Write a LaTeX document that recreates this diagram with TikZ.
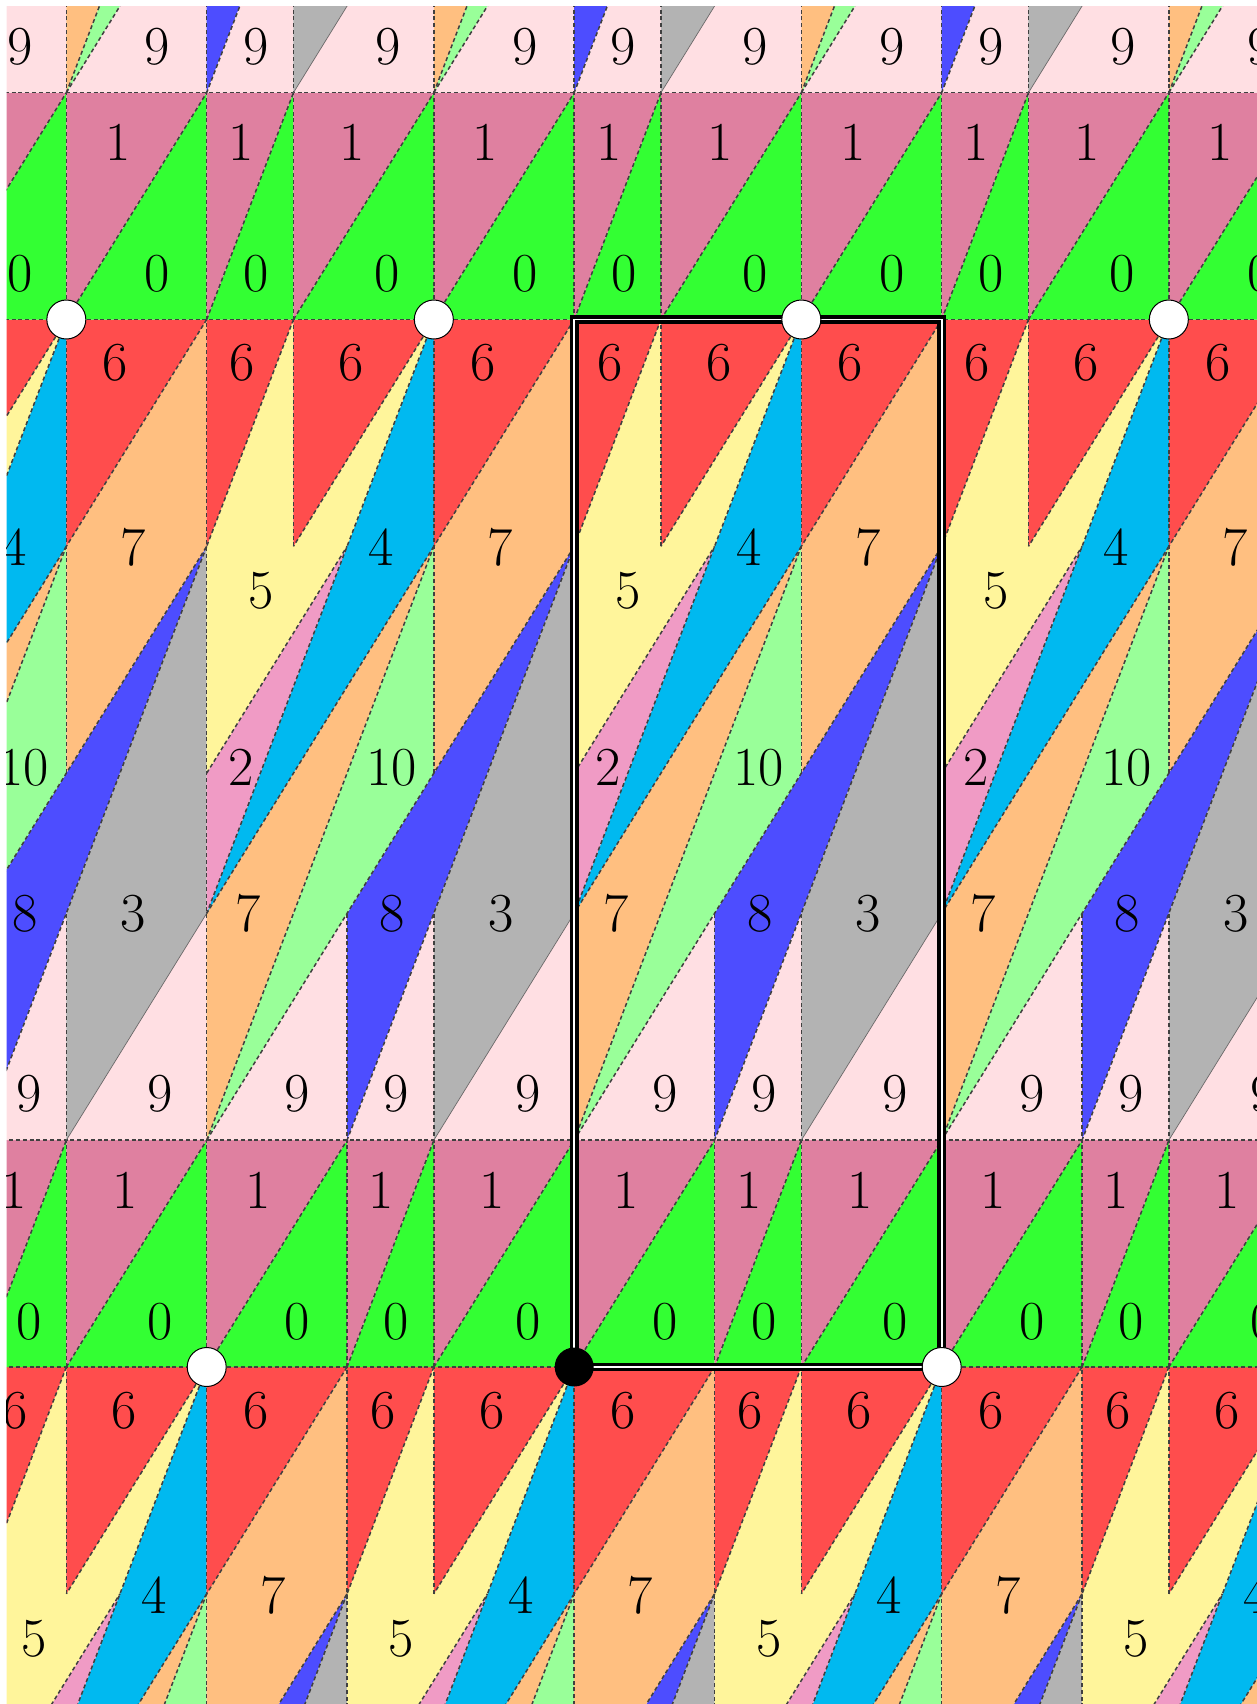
\documentclass[tikz,border=0pt]{standalone}
\usepackage{fontspec}
\definecolor{f0}{RGB}{51,255,51}
\definecolor{f1}{RGB}{223,128,160}
\definecolor{f2}{RGB}{240,155,197}
\definecolor{f3}{RGB}{179,179,179}
\definecolor{f4}{RGB}{0,185,240}
\definecolor{f5}{RGB}{255,245,155}
\definecolor{f6}{RGB}{255,77,77}
\definecolor{f7}{RGB}{255,191,128}
\definecolor{f8}{RGB}{77,77,255}
\definecolor{f9}{RGB}{255,223,227}
\definecolor{f10}{RGB}{153,255,153}
\tikzset{
 dl/.style={draw=black!75, line width=0.75pt, dash pattern=on 2pt off 1.4pt},
 sl/.style={draw=black!60, line width=0.35pt},
 lab/.style={font=\fontsize{27.5}{30}\selectfont, inner sep=0pt},
 wdot/.style={circle, fill=white, draw=black, line width=0.5pt, minimum size=19.5pt, inner sep=0pt},
 bdot/.style={circle, fill=black, minimum size=19.5pt, inner sep=0pt},
 fdbox/.style={draw=black, line width=1.8pt, double=white, double distance=0.8pt}
}
\begin{document}
\begin{tikzpicture}[x=0.5pt,y=0.5pt]
\useasboundingbox (0,0) rectangle (1257,-1704);
\def\tA{86.76}\def\tB{140.37}\def\tC{227.13}\def\tW{367.5}
\def\vA{226.83}\def\vB{453.66}\def\vC{593.84}\def\vD{820.67}\def\vE{1047.5}
\begin{scope}
\clip (6.7,-6.7) rectangle (1257,-1704);
% fills
\foreach \i in {-3,...,2}{\foreach \j in {-1,0,1}{
\begin{scope}[shift={({574.2+\i*367.5-\j*140.37},{-1367+\j*1047.5})}]
\fill[f0] (0,0) -- (\tB,0) -- (\tB,\vA) -- cycle;
\fill[f1] (0,0) -- (0,\vA) -- (\tB,\vA) -- cycle;
\fill[f0] (\tB,0) -- (\tC,0) -- (\tC,\vA) -- cycle;
\fill[f1] (\tB,0) -- (\tB,\vA) -- (\tC,\vA) -- cycle;
\fill[f0] (\tC,0) -- (\tW,0) -- (\tW,\vA) -- cycle;
\fill[f1] (\tC,0) -- (\tC,\vA) -- (\tW,\vA) -- cycle;
\fill[f9] (0,\vA) -- (\tB,\vB) -- (\tB,\vA) -- cycle;
\fill[f8] (\tW,\vD) -- (\tB,\vB) -- (\tB,\vA) -- cycle;
\fill[f9] (\tB,\vA) -- (\tC,\vB) -- (\tC,\vA) -- cycle;
\fill[f3] (\tW,\vD) -- (\tW,\vB) -- (\tC,\vA) -- (\tC,\vB) -- cycle;
\fill[f9] (\tC,\vA) -- (\tW,\vB) -- (\tW,\vA) -- cycle;
\fill[f7] (0,\vB) -- (0,\vA) -- (\tC,\vD) -- cycle;
\fill[f10] (0,\vA) -- (\tC,\vD) -- (\tC,\vC) -- cycle;
\fill[f7] (\tW,\vE) -- (\tW,\vD) -- (\tC,\vC) -- (\tC,\vD) -- cycle;
\fill[f4] (\tC,\vE) -- (\tC,\vD) -- (0,\vB) -- cycle;
\fill[f2] (0,\vC) -- (\tB,\vD) -- (0,\vB) -- cycle;
\fill[f5] (\tA,\vE) -- (0,\vD) -- (0,\vC) -- (\tB,\vD) -- (\tC,\vE) -- (\tA,\vD) -- cycle;
\fill[f6] (0,\vE) -- (\tA,\vE) -- (0,\vD) -- cycle;
\fill[f6] (\tA,\vE) -- (\tC,\vE) -- (\tA,\vD) -- cycle;
\fill[f6] (\tC,\vE) -- (\tW,\vE) -- (\tC,\vD) -- cycle;
\end{scope}}}
% edges
\foreach \i in {-3,...,2}{\foreach \j in {-1,0,1}{
\begin{scope}[shift={({574.2+\i*367.5-\j*140.37},{-1367+\j*1047.5})}]
\draw[dl] (0,0) -- (\tW,0);
\draw[dl] (0,\vA) -- (\tW,\vA);
\draw[dl] (0,0) -- (0,\vE);
\draw[dl] (\tB,0) -- (\tB,\vB);
\draw[dl] (\tC,0) -- (\tC,\vB);
\draw[dl] (\tC,\vC) -- (\tC,\vE);
\draw[dl] (\tA,\vD) -- (\tA,\vE);
\draw[dl] (0,0) -- (\tB,\vA);
\draw[dl] (\tB,0) -- (\tC,\vA);
\draw[dl] (\tC,0) -- (\tW,\vA);
\draw[dl] (\tA,\vE) -- (0,\vD);
\draw[dl] (\tC,\vE) -- (\tA,\vD);
\draw[dl] (\tW,\vE) -- (\tC,\vD);
\draw[dl] (\tC,\vE) -- (0,\vB);
\draw[dl] (\tC,\vD) -- (0,\vB);
\draw[dl] (0,\vC) -- (\tB,\vD);
\draw[dl] (0,\vA) -- (\tC,\vD);
\draw[dl] (0,\vA) -- (\tW,\vD);
\draw[dl] (\tW,\vD) -- (\tB,\vA);
\draw[sl] (\tW,\vB) -- (\tC,\vA);
\end{scope}}}
% labels
\foreach \i in {-3,...,2}{\foreach \j in {-1,0,1}{
\begin{scope}[shift={({574.2+\i*367.5-\j*140.37},{-1367+\j*1047.5})}]
\node[lab] (l6a) at (35.8,1004) {6};
\node[lab] (l6b) at (144.8,1004) {6};
\node[lab] (l6c) at (276.2,1004) {6};
\node[lab] (l4) at (174.5,819.5) {4};
\node[lab] (l7a) at (293.5,819.5) {7};
\node[lab] (l5) at (54.1,776) {5};
\node[lab] (l2) at (34.1,599.5) {2};
\node[lab] (l10) at (184.6,599.5) {10};
\node[lab] (l7b) at (41.5,453.2) {7};
\node[lab] (l8) at (185.8,453.2) {8};
\node[lab] (l3) at (294.1,453.2) {3};
\node[lab] (l9a) at (90.8,273) {9};
\node[lab] (l9b) at (189.6,273) {9};
\node[lab] (l9c) at (321.3,273) {9};
\node[lab] (l1a) at (51.5,177) {1};
\node[lab] (l1b) at (174.8,177) {1};
\node[lab] (l1c) at (285.8,177) {1};
\node[lab] (l0a) at (90.8,45.3) {0};
\node[lab] (l0b) at (189.8,45.3) {0};
\node[lab] (l0c) at (321.1,45.3) {0};
\end{scope}}}
\end{scope}
% fundamental domain
\draw[fdbox] (574.2,-1367) rectangle (941.7,-319.5);
% lattice points
\node[wdot] (w1) at (206.7,-1367) {};
\node[wdot] (w2) at (941.7,-1367) {};
\node[wdot] (w3) at (66.33,-319.5) {};
\node[wdot] (w4) at (433.83,-319.5) {};
\node[wdot] (w5) at (801.33,-319.5) {};
\node[wdot] (w6) at (1168.83,-319.5) {};
\node[bdot] (o) at (574.2,-1367) {};
\end{tikzpicture}
\end{document}
